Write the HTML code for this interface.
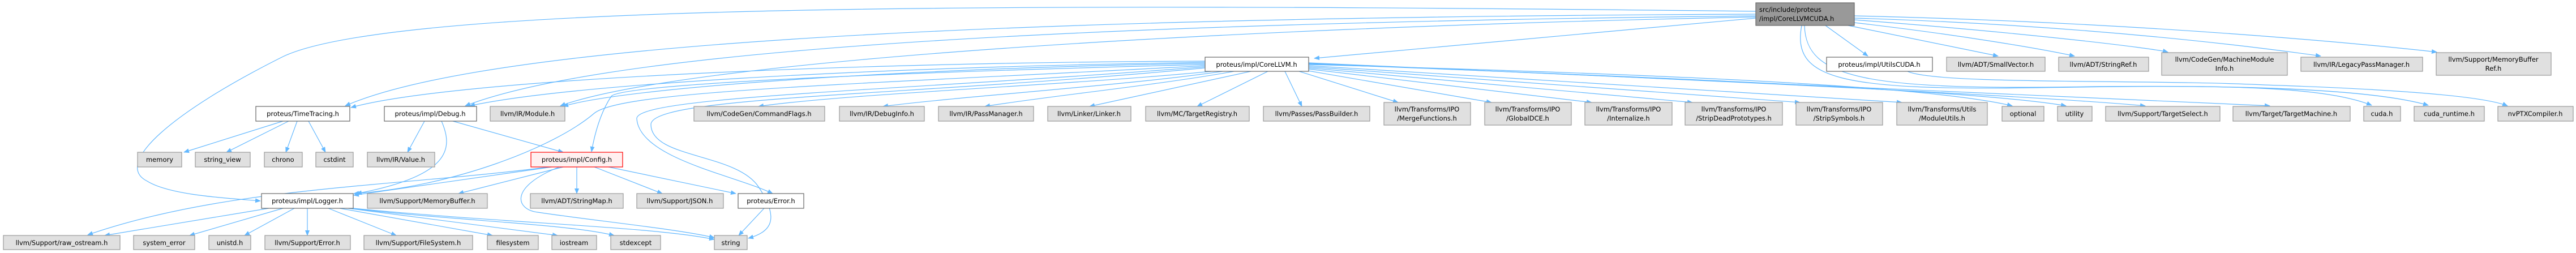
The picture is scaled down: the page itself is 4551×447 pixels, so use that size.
<!DOCTYPE html>
<html><head><meta charset="utf-8">
<style>
html,body{margin:0;padding:0;background:#fff;}
svg{display:block;}
text{font-family:"DejaVu Sans","Liberation Sans",sans-serif;font-size:11.5px;fill:#000;}
.g{fill:#e0e0e0;stroke:#999;stroke-width:1.2;}
.w{fill:#fff;stroke:#666;stroke-width:1.2;}
.e{fill:none;stroke:#63b8ff;stroke-width:1.2;}
</style></head><body>
<svg width="4551" height="447" viewBox="0 0 4551 447" xmlns="http://www.w3.org/2000/svg">
<defs><marker id="a" markerWidth="10" markerHeight="8" refX="9" refY="4" orient="auto" markerUnits="userSpaceOnUse"><path d="M0,0 L10,4 L0,8 z" fill="#63b8ff"/></marker></defs>
<g class="e" marker-end="url(#a)">
<!-- root edges -->
<path d="M3102,32 C2800,60 2500,85 2322,103"/>
<path d="M3102,25 C2000,30 900,60 610,187"/>
<path d="M3102,28 C2000,40 1100,80 822,187"/>
<path d="M3102,30 C2100,50 1200,110 990,187"/>
<path d="M3102,20 C1800,5 700,5 500,100 C300,200 200,290 260,320 C300,345 400,350 460,355"/>
<path d="M3225,45 L3300,99"/>
<path d="M3265,45 L3530,99"/>
<path d="M3276,40 C3450,60 3600,85 3665,99"/>
<path d="M3276,35 C3600,60 3800,85 3830,92"/>
<path d="M3276,32 C3700,45 4000,85 4100,99"/>
<path d="M3276,28 C3800,40 4200,80 4305,92"/>
<path d="M3183,45 C3165,140 3250,160 3600,155 C3900,150 4100,150 4190,186"/>
<path d="M3188,45 C3190,140 3300,160 3700,153 C4000,150 4200,160 4290,186"/>
<path d="M3370,126 C3420,150 3800,140 4000,150 C4300,160 4400,175 4430,187"/>
<!-- CoreLLVM edges -->
<path d="M2140,126 C1900,150 1500,165 1340,188"/>
<path d="M2160,126 C2000,150 1700,170 1560,188"/>
<path d="M2180,126 C2050,150 1850,170 1740,188"/>
<path d="M2210,126 L1925,188"/>
<path d="M2240,126 L2115,188"/>
<path d="M2270,126 L2300,188"/>
<path d="M2295,126 L2470,181"/>
<path d="M2305,124 L2635,181"/>
<path d="M2312,122 L2812,181"/>
<path d="M2312,120 L2990,181"/>
<path d="M2312,118 L3180,181"/>
<path d="M2312,116 L3360,181"/>
<path d="M2312,114 C2900,130 3400,150 3555,187"/>
<path d="M2312,113 C2900,135 3500,160 3650,187"/>
<path d="M2312,112 C3000,140 3600,170 3790,187"/>
<path d="M2312,111 C3100,150 3700,170 4010,187"/>
<path d="M2129,108 C1500,110 800,140 620,190"/>
<path d="M2129,110 C1500,120 1000,150 830,187"/>
<path d="M2129,112 C1600,120 1100,155 995,188"/>
<path d="M2129,114 C1500,130 1100,150 1080,170 C1060,200 1050,240 1045,268"/>
<path d="M2129,116 C1500,150 1100,160 1050,200 C980,260 800,330 625,342"/>
<path d="M2129,118 C1600,160 1120,170 1125,210 C1130,280 1300,310 1365,342"/>
<path d="M2129,120 C1600,170 1150,170 1150,220 C1150,280 1300,270 1340,330 C1380,390 1360,410 1322,421"/>
<!-- TimeTracing -->
<path d="M500,214 L325,269"/>
<path d="M510,214 L400,269"/>
<path d="M525,214 L505,269"/>
<path d="M545,214 L575,269"/>
<!-- Debug -->
<path d="M750,214 L720,269"/>
<path d="M780,214 C800,260 800,310 630,342"/>
<path d="M800,214 L995,269"/>
<!-- Config -->
<path d="M975,295 L625,345"/>
<path d="M970,295 C700,330 400,330 155,415"/>
<path d="M995,295 L810,342"/>
<path d="M1019,295 L1019,342"/>
<path d="M1050,295 L1170,342"/>
<path d="M1075,295 L1300,342"/>
<path d="M988,295 C900,330 910,370 950,375 C1050,390 1200,405 1262,420"/>
<!-- Logger -->
<path d="M475,368 L185,416"/>
<path d="M500,368 L335,416"/>
<path d="M520,368 L432,416"/>
<path d="M543,368 L543,416"/>
<path d="M580,368 L700,416"/>
<path d="M600,368 L870,416"/>
<path d="M615,368 L985,416"/>
<path d="M620,368 C800,390 1000,395 1085,416"/>
<path d="M624,368 C900,395 1150,400 1262,423"/>
<!-- Error.h -->
<path d="M1350,368 L1305,416"/>
</g>
<!-- nodes -->
<rect class="w" x="3102" y="5" width="174" height="40" style="fill:#999"/>
<text x="3108" y="21">src/include/proteus</text><text x="3108" y="37">/impl/CoreLLVMCUDA.h</text>
<g>
<rect class="w" x="2129" y="101" width="183" height="25"/><text x="2220" y="118" text-anchor="middle">proteus/impl/CoreLLVM.h</text>
<rect class="w" x="3227" y="101" width="187" height="25"/><text x="3320" y="118" text-anchor="middle">proteus/impl/UtilsCUDA.h</text>
<rect class="g" x="3439" y="101" width="174" height="25"/><text x="3526" y="118" text-anchor="middle">llvm/ADT/SmallVector.h</text>
<rect class="g" x="3637" y="101" width="159" height="25"/><text x="3716" y="118" text-anchor="middle">llvm/ADT/StringRef.h</text>
<rect class="g" x="3819" y="93" width="222" height="40"/><text x="3930" y="109" text-anchor="middle">llvm/CodeGen/MachineModule</text><text x="3930" y="125" text-anchor="middle">Info.h</text>
<rect class="g" x="4065" y="101" width="215" height="25"/><text x="4172" y="118" text-anchor="middle">llvm/IR/LegacyPassManager.h</text>
<rect class="g" x="4304" y="93" width="203" height="40"/><text x="4405" y="109" text-anchor="middle">llvm/Support/MemoryBuffer</text><text x="4405" y="125" text-anchor="middle">Ref.h</text>

<rect class="w" x="452" y="188" width="166" height="26"/><text x="535" y="205" text-anchor="middle">proteus/TimeTracing.h</text>
<rect class="w" x="679" y="188" width="163" height="26"/><text x="760" y="205" text-anchor="middle">proteus/impl/Debug.h</text>
<rect class="g" x="866" y="188" width="132" height="26"/><text x="932" y="205" text-anchor="middle">llvm/IR/Module.h</text>
<rect class="g" x="1226" y="188" width="231" height="26"/><text x="1341" y="205" text-anchor="middle">llvm/CodeGen/CommandFlags.h</text>
<rect class="g" x="1483" y="188" width="150" height="26"/><text x="1558" y="205" text-anchor="middle">llvm/IR/DebugInfo.h</text>
<rect class="g" x="1658" y="188" width="168" height="26"/><text x="1742" y="205" text-anchor="middle">llvm/IR/PassManager.h</text>
<rect class="g" x="1851" y="188" width="147" height="26"/><text x="1924" y="205" text-anchor="middle">llvm/Linker/Linker.h</text>
<rect class="g" x="2024" y="188" width="183" height="26"/><text x="2115" y="205" text-anchor="middle">llvm/MC/TargetRegistry.h</text>
<rect class="g" x="2232" y="188" width="188" height="26"/><text x="2326" y="205" text-anchor="middle">llvm/Passes/PassBuilder.h</text>
<rect class="g" x="2445" y="181" width="153" height="40"/><text x="2521" y="197" text-anchor="middle">llvm/Transforms/IPO</text><text x="2521" y="213" text-anchor="middle">/MergeFunctions.h</text>
<rect class="g" x="2623" y="181" width="153" height="40"/><text x="2699" y="197" text-anchor="middle">llvm/Transforms/IPO</text><text x="2699" y="213" text-anchor="middle">/GlobalDCE.h</text>
<rect class="g" x="2800" y="181" width="154" height="40"/><text x="2877" y="197" text-anchor="middle">llvm/Transforms/IPO</text><text x="2877" y="213" text-anchor="middle">/Internalize.h</text>
<rect class="g" x="2977" y="181" width="172" height="40"/><text x="3063" y="197" text-anchor="middle">llvm/Transforms/IPO</text><text x="3063" y="213" text-anchor="middle">/StripDeadPrototypes.h</text>
<rect class="g" x="3173" y="181" width="153" height="40"/><text x="3249" y="197" text-anchor="middle">llvm/Transforms/IPO</text><text x="3249" y="213" text-anchor="middle">/StripSymbols.h</text>
<rect class="g" x="3351" y="181" width="160" height="40"/><text x="3431" y="197" text-anchor="middle">llvm/Transforms/Utils</text><text x="3431" y="213" text-anchor="middle">/ModuleUtils.h</text>
<rect class="g" x="3537" y="188" width="74" height="26"/><text x="3574" y="205" text-anchor="middle">optional</text>
<rect class="g" x="3635" y="188" width="61" height="26"/><text x="3665" y="205" text-anchor="middle">utility</text>
<rect class="g" x="3720" y="188" width="202" height="26"/><text x="3821" y="205" text-anchor="middle">llvm/Support/TargetSelect.h</text>
<rect class="g" x="3945" y="188" width="207" height="26"/><text x="4048" y="205" text-anchor="middle">llvm/Target/TargetMachine.h</text>
<rect class="g" x="4176" y="188" width="65" height="26"/><text x="4208" y="205" text-anchor="middle">cuda.h</text>
<rect class="g" x="4265" y="188" width="124" height="26"/><text x="4327" y="205" text-anchor="middle">cuda_runtime.h</text>
<rect class="g" x="4413" y="188" width="133" height="26"/><text x="4479" y="205" text-anchor="middle">nvPTXCompiler.h</text>

<rect class="g" x="243" y="269" width="78" height="26"/><text x="282" y="286" text-anchor="middle">memory</text>
<rect class="g" x="345" y="269" width="97" height="26"/><text x="393" y="286" text-anchor="middle">string_view</text>
<rect class="g" x="467" y="269" width="67" height="26"/><text x="500" y="286" text-anchor="middle">chrono</text>
<rect class="g" x="558" y="269" width="66" height="26"/><text x="591" y="286" text-anchor="middle">cstdint</text>
<rect class="g" x="649" y="269" width="119" height="26"/><text x="708" y="286" text-anchor="middle">llvm/IR/Value.h</text>
<rect x="938" y="269" width="162" height="26" fill="#fff0f0" stroke="#ff0000" stroke-width="1.2"/><text x="1019" y="286" text-anchor="middle">proteus/impl/Config.h</text>

<rect class="w" x="462" y="342" width="162" height="26"/><text x="543" y="359" text-anchor="middle">proteus/impl/Logger.h</text>
<rect class="g" x="649" y="342" width="212" height="26"/><text x="755" y="359" text-anchor="middle">llvm/Support/MemoryBuffer.h</text>
<rect class="g" x="937" y="342" width="164" height="26"/><text x="1019" y="359" text-anchor="middle">llvm/ADT/StringMap.h</text>
<rect class="g" x="1125" y="342" width="153" height="26"/><text x="1201" y="359" text-anchor="middle">llvm/Support/JSON.h</text>
<rect class="w" x="1304" y="342" width="116" height="26"/><text x="1362" y="359" text-anchor="middle">proteus/Error.h</text>

<rect class="g" x="6" y="416" width="206" height="25"/><text x="109" y="433" text-anchor="middle">llvm/Support/raw_ostream.h</text>
<rect class="g" x="236" y="416" width="108" height="25"/><text x="290" y="433" text-anchor="middle">system_error</text>
<rect class="g" x="369" y="416" width="74" height="25"/><text x="406" y="433" text-anchor="middle">unistd.h</text>
<rect class="g" x="468" y="416" width="151" height="25"/><text x="543" y="433" text-anchor="middle">llvm/Support/Error.h</text>
<rect class="g" x="643" y="416" width="192" height="25"/><text x="739" y="433" text-anchor="middle">llvm/Support/FileSystem.h</text>
<rect class="g" x="861" y="416" width="90" height="25"/><text x="906" y="433" text-anchor="middle">filesystem</text>
<rect class="g" x="975" y="416" width="79" height="25"/><text x="1014" y="433" text-anchor="middle">iostream</text>
<rect class="g" x="1079" y="416" width="88" height="25"/><text x="1123" y="433" text-anchor="middle">stdexcept</text>
<rect class="g" x="1262" y="416" width="58" height="25"/><text x="1291" y="433" text-anchor="middle">string</text>
</g>
</svg>
</body></html>
